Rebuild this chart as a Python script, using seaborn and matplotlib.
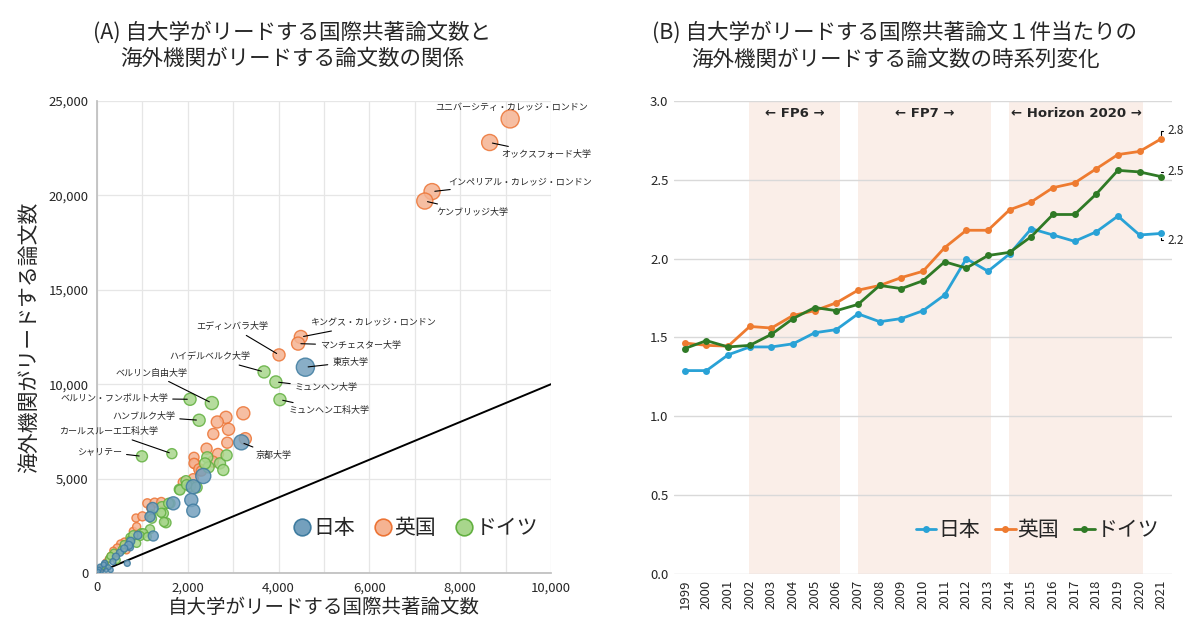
import numpy as np
import pandas as pd
import matplotlib
matplotlib.use("Agg")
import matplotlib.pyplot as plt
from matplotlib.lines import Line2D
from matplotlib.ticker import FuncFormatter
import seaborn as sns

# ---- (A) bubble data: x = papers led by own univ, y = papers led by overseas, w = bubble size
jp_x = [4590, 3180, 2121, 2341, 2077, 2121, 1681, 1225, 1167, 1240, 727, 742, 698, 507, 418,
        169, 66, 302, 667, 100, 50, 250, 350, 600, 900, 150, 30, 200]
jp_y = [10900, 6920, 4571, 5138, 3866, 3300, 3690, 3442, 2980, 1960, 1360, 1678, 1466, 1076, 865,
        512, 335, 159, 512, 100, 200, 300, 600, 1300, 2000, 450, 80, 150]
jp_w = [9, 7.5, 7, 7.5, 6.5, 6.5, 6.5, 5.5, 5, 5, 3.5, 4, 4, 3.5, 3.5,
        3, 2.5, 2.5, 3, 2, 2, 2.5, 3, 3.5, 4, 2.5, 2, 2]

uk_x = [9100, 8650, 7380, 7220, 4490, 4430, 4010,
        3223, 2841, 2650, 2898, 2562, 3267, 2870, 2414, 2665, 2137, 2165, 2269, 2121, 2137, 2254,
        1109, 1270, 1417, 1182, 859, 800, 609, 522, 447, 360, 580, 302, 198, 727, 874, 650, 400,
        250, 100, 1000, 2550, 1900, 2300]
uk_y = [24050, 22800, 20200, 19700, 12500, 12150, 11550,
        8458, 8245, 7998, 7610, 7362, 7113, 6901, 6584, 6303, 6127, 5773, 5420, 4995, 5809, 5492,
        3690, 3725, 3760, 3443, 2913, 2207, 1642, 1536, 1324, 1182, 1395, 900, 583, 1748, 2454, 1200, 1000,
        750, 300, 3000, 5900, 4800, 5400]
uk_w = [9, 8, 8, 8, 6.5, 6.5, 6,
        6.5, 6, 6, 6, 5.5, 6, 5.5, 5.5, 5.5, 5, 5, 5, 5, 5, 5.5,
        4.5, 4.5, 4.5, 4, 4, 4, 4, 4, 4, 3.5, 3.5, 3.5, 3, 4, 4, 3.5, 3.5,
        3, 2.5, 4.5, 5.5, 5, 5]

de_x = [3680, 3940, 4030, 2530, 2050, 2250, 1650, 990,
        2429, 2458, 2709, 2782, 2855, 1960, 1813, 2048, 2194, 1608, 1432, 1462, 1520, 1196, 1167,
        976, 727, 1211, 1416, 1476, 1020, 947, 1108, 742, 874, 551, 374, 271, 434, 139, 1579, 1828,
        1975, 2380, 600, 300, 200, 800]
de_y = [10650, 10120, 9180, 9000, 9200, 8090, 6320, 6180,
        6127, 5598, 5809, 5455, 6233, 4889, 4430, 4606, 4536, 3689, 3513, 3160, 2662, 3089, 2317,
        2105, 1890, 2876, 3194, 2701, 2101, 1960, 1924, 1748, 1572, 1218, 1076, 758, 688, 370, 3690, 4396,
        4677, 5800, 1500, 900, 400, 2000]
de_w = [6, 6, 6, 6.5, 6, 6, 5, 5.5,
        5.5, 5.5, 5.5, 5.5, 5.5, 5, 5, 5.5, 5.5, 5, 5, 5, 5, 4.5, 4.5,
        4.5, 4, 4.5, 4.5, 4.5, 4.5, 4.5, 4, 4, 4, 4, 3.5, 3.5, 3.5, 3, 5, 5,
        5, 5.5, 4, 3.5, 3, 4.5]

# labelled institutions
lab_names = ["ユニバーシティ・カレッジ・ロンドン", "オックスフォード大学", "インペリアル・カレッジ・ロンドン",
             "ケンブリッジ大学", "キングス・カレッジ・ロンドン", "マンチェスター大学", "エディンバラ大学",
             "東京大学", "ハイデルベルク大学", "ベルリン自由大学", "ミュンヘン大学", "ミュンヘン工科大学",
             "ベルリン・フンボルト大学", "ハンブルク大学", "カールスルーエ工科大学", "シャリテー", "京都大学"]
lab_x = [9100, 8650, 7380, 7220, 4490, 4430, 4010, 4590, 3680, 2530, 3940, 4030, 2050, 2250, 1650, 990, 3180]
lab_y = [24050, 22800, 20200, 19700, 12500, 12150, 11550, 10900, 10650, 9000, 10120, 9180, 9200, 8090, 6320, 6180, 6920]

# ---- (B) time series
years = list(range(1999, 2022))
jp_ratio = [1.29, 1.29, 1.39, 1.44, 1.44, 1.46, 1.53, 1.55, 1.65, 1.60, 1.62, 1.67,
            1.77, 2.00, 1.92, 2.03, 2.19, 2.15, 2.11, 2.17, 2.27, 2.15, 2.16]
uk_ratio = [1.465, 1.45, 1.445, 1.57, 1.56, 1.64, 1.67, 1.72, 1.80, 1.83, 1.88, 1.92,
            2.07, 2.18, 2.18, 2.31, 2.36, 2.45, 2.48, 2.57, 2.66, 2.68, 2.76]
de_ratio = [1.43, 1.48, 1.44, 1.45, 1.52, 1.62, 1.69, 1.67, 1.71, 1.83, 1.81, 1.86,
            1.98, 1.94, 2.02, 2.04, 2.14, 2.28, 2.28, 2.41, 2.56, 2.55, 2.52]
programmes = ["FP6", "FP7", "Horizon 2020"]
prog_start = [2002, 2007, 2014]
prog_end = [2006, 2013, 2020]

countries = ["日本", "英国", "ドイツ"]

sns.set_theme(style="white")
plt.rcParams["font.family"] = ["Noto Sans CJK JP", "DejaVu Sans"]

fig = plt.figure(figsize=(11.87, 6.21), dpi=100)
axA = fig.add_axes([0.0817, 0.0773, 0.3825, 0.7601])
axB = fig.add_axes([0.5678, 0.0757, 0.4196, 0.7617])

# ================= (A) =================
fills = {"日本": "#74A0BD", "英国": "#F5B392", "ドイツ": "#A8D68C"}
edges = {"日本": "#3F7CA0", "英国": "#EC7435", "ドイツ": "#62B040"}
frames = {
    "英国": pd.DataFrame({"x": uk_x, "y": uk_y, "w": uk_w}),
    "ドイツ": pd.DataFrame({"x": de_x, "y": de_y, "w": de_w}),
    "日本": pd.DataFrame({"x": jp_x, "y": jp_y, "w": jp_w}),
}
for c, d in frames.items():
    d["area"] = d["w"] ** 2
    sns.scatterplot(data=d, x="x", y="y", size="area", sizes=(0, 170), size_norm=(0, 81),
                    color=fills[c], edgecolor=edges[c], linewidth=1.0, alpha=0.85,
                    legend=False, ax=axA, zorder=3)

axA.plot([0, 10000], [0, 10000], color="black", lw=1.4, zorder=2)

# label offsets in pixels (dx, dy, ha)
lab_pos = [(1, 11, "center"), (12, -12, "left"), (16, 10, "left"), (12, -11, "left"),
           (9, 14, "left"), (22, -2, "left"), (-11, 28, "right"), (27, 5, "left"),
           (-14, 15, "right"), (-24, 30, "right"), (19, -6, "left"), (9, -11, "left"),
           (-22, 1, "right"), (-24, 4, "right"), (-14, 22, "right"), (-20, 5, "right"),
           (14, -13, "left")]
for i, name in enumerate(lab_names):
    dx, dy, ha = lab_pos[i]
    ap = None if i == 0 else dict(arrowstyle="-", color="black", lw=0.8, shrinkA=1, shrinkB=2)
    axA.annotate(name, xy=(lab_x[i], lab_y[i]), xytext=(dx, dy), textcoords="offset pixels",
                 ha=ha, va="center", fontsize=6.5, arrowprops=ap, zorder=5,
                 annotation_clip=False)

axA.set_xlim(0, 10000)
axA.set_ylim(0, 25000)
axA.set_xticks(range(0, 10001, 2000))
axA.set_xticks(range(1000, 10000, 2000), minor=True)
axA.set_yticks(range(0, 25001, 5000))
fmt = FuncFormatter(lambda v, p: f"{int(v):,}")
axA.xaxis.set_major_formatter(fmt)
axA.yaxis.set_major_formatter(fmt)
axA.grid(True, which="both", color="#E6E6E6", lw=0.9, zorder=0)
axA.set_axisbelow(True)
for s in ["top", "right"]:
    axA.spines[s].set_visible(False)
for s in ["left", "bottom"]:
    axA.spines[s].set_color("#BFBFBF")
axA.tick_params(labelsize=9.5, length=0, pad=6)
axA.set_xlabel("自大学がリードする国際共著論文数", fontsize=14, labelpad=2)
axA.set_ylabel("海外機関がリードする論文数", fontsize=15, labelpad=6)

handlesA = [Line2D([], [], ls="none", marker="o", markersize=12, mfc=fills[c], mec=edges[c], mew=1.2)
            for c in countries]
axA.legend(handlesA, countries, loc="center right", bbox_to_anchor=(1.0, 0.095), ncol=3,
           frameon=False, fontsize=15, handlelength=0.9, handletextpad=0.1, columnspacing=0.9,
           borderaxespad=0.2)

# ================= (B) =================
df = pd.DataFrame({"year": years * 3,
                   "ratio": jp_ratio + uk_ratio + de_ratio,
                   "country": ["日本"] * len(years) + ["英国"] * len(years) + ["ドイツ"] * len(years)})
line_cols = {"日本": "#29A2D6", "英国": "#EE7B30", "ドイツ": "#2F7A26"}

for s0, s1, name in zip(prog_start, prog_end, programmes):
    axB.axvspan(s0 - 0.02, s1 + 0.15, color="#FAEEE8", lw=0, zorder=0)
    axB.text((s0 + s1 + 0.13) / 2, 2.92, f"← {name} →", ha="center", va="center",
             fontsize=9.5, fontweight="bold", family=["DejaVu Sans"])

sns.lineplot(data=df, x="year", y="ratio", hue="country", hue_order=countries, palette=line_cols,
             marker="o", markersize=5, markeredgewidth=0, linewidth=2, legend=False, ax=axB, zorder=3)

last_off = {"日本": -7, "英国": 8, "ドイツ": 5}
for c, vals in zip(countries, [jp_ratio, uk_ratio, de_ratio]):
    axB.annotate(f"{vals[-1]:.1f}", xy=(years[-1], vals[-1]), xytext=(6, last_off[c]),
                 textcoords="offset pixels", ha="left", va="center", fontsize=8.5,
                 arrowprops=dict(arrowstyle="-", color="black", lw=0.8, shrinkA=1, shrinkB=3,
                                 connectionstyle="angle,angleA=0,angleB=90,rad=0"),
                 annotation_clip=False)

axB.set_xlim(1998.5, 2021.5)
axB.set_ylim(0, 3.0)
axB.set_xticks(years)
axB.set_xticklabels([str(y) for y in years], rotation=90)
axB.set_yticks(np.arange(0, 3.01, 0.5))
axB.yaxis.set_major_formatter(FuncFormatter(lambda v, p: f"{v:.1f}"))
axB.grid(True, axis="y", color="#D9D9D9", lw=1.0, zorder=1)
axB.set_axisbelow(True)
for s in axB.spines.values():
    s.set_visible(False)
axB.tick_params(labelsize=9.5, length=0, pad=4)
axB.set_xlabel("")
axB.set_ylabel("")

handlesB = [Line2D([], [], color=line_cols[c], lw=2, marker="o", markersize=5, mew=0) for c in countries]
axB.legend(handlesB, countries, loc="center right", bbox_to_anchor=(1.0, 0.093), ncol=3,
           frameon=False, fontsize=15, handlelength=1.0, handletextpad=0.1, columnspacing=0.7,
           borderaxespad=0.2)

# titles
fig.text(0.246, 0.965, "(A) 自大学がリードする国際共著論文数と\n海外機関がリードする論文数の関係",
         ha="center", va="top", fontsize=15.5, linespacing=1.25)
fig.text(0.754, 0.965, "(B) 自大学がリードする国際共著論文１件当たりの\n海外機関がリードする論文数の時系列変化",
         ha="center", va="top", fontsize=15.5, linespacing=1.25)

fig.savefig("out.png", dpi=100)
